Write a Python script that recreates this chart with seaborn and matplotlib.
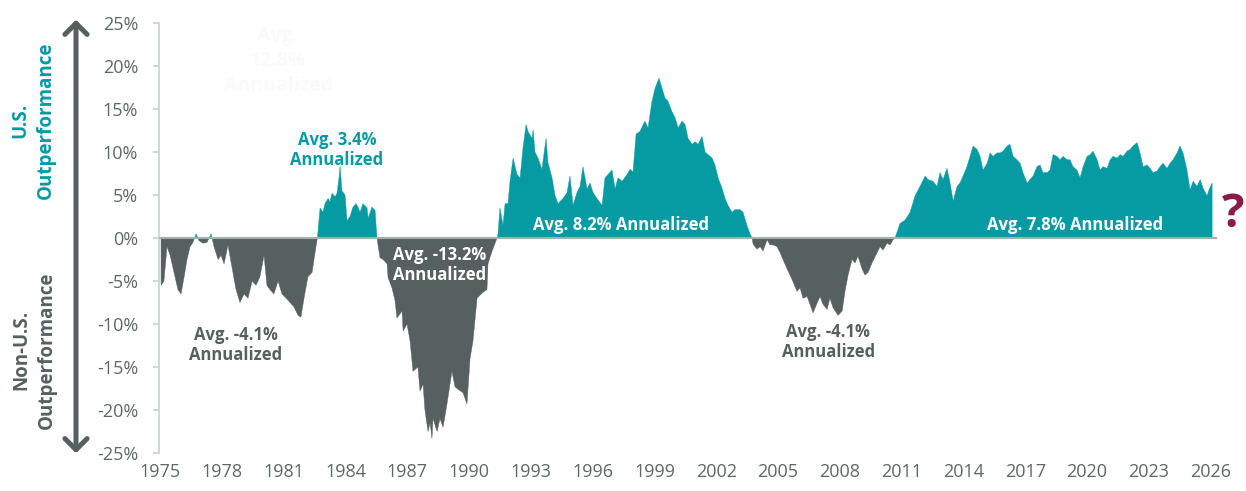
import numpy as np
import matplotlib
matplotlib.use("Agg")
import matplotlib.pyplot as plt
from matplotlib.patches import FancyArrowPatch
import seaborn as sns

# Rolling annualized U.S. minus non-U.S. return (%)
years_7582 = [1975.05, 1975.19, 1975.34, 1975.49, 1975.68, 1975.87, 1976.02, 1976.17, 1976.31,
              1976.46, 1976.60, 1976.75, 1976.89, 1977.09, 1977.28, 1977.48, 1977.62, 1977.82,
              1977.96, 1978.11, 1978.30, 1978.50, 1978.69, 1978.88, 1979.08, 1979.27, 1979.47,
              1979.66, 1979.85, 1980.05, 1980.19, 1980.34, 1980.53, 1980.73, 1980.92, 1981.12,
              1981.31, 1981.50, 1981.70, 1981.84, 1981.99, 1982.18, 1982.38, 1982.57]
excess_7582 = [-5.5, -5.0, -1.0, -2.0, -4.0, -6.0, -6.5, -4.5, -2.5,
               -1.0, -0.5, 0.5, -0.3, -0.6, -0.5, 0.5, -1.0, -2.5,
               -2.0, -3.0, -0.8, -3.5, -6.0, -7.5, -6.5, -7.0, -5.0,
               -5.5, -4.5, -2.0, -5.5, -6.0, -6.5, -5.0, -6.5, -7.0,
               -7.5, -8.0, -9.0, -9.2, -7.0, -4.5, -4.0, -1.0]

years_8285 = [1982.64, 1982.77, 1982.91, 1983.01, 1983.16, 1983.25, 1983.35, 1983.50, 1983.59,
              1983.69, 1983.74, 1983.83, 1983.98, 1984.08, 1984.22, 1984.37, 1984.51, 1984.61,
              1984.71, 1984.85, 1985.05, 1985.10, 1985.29, 1985.44, 1985.53]
excess_8285 = [0.0, 3.5, 3.0, 4.0, 4.6, 4.2, 5.2, 4.8, 5.2,
               7.0, 8.4, 5.5, 5.0, 2.0, 2.5, 3.6, 4.0, 3.6,
               3.0, 4.0, 3.5, 2.3, 3.6, 3.2, 0.0]

years_8591 = [1985.68, 1985.83, 1986.02, 1986.07, 1986.26, 1986.41, 1986.50, 1986.75, 1986.80,
              1986.99, 1987.14, 1987.28, 1987.52, 1987.62, 1987.77, 1987.86, 1988.01, 1988.11,
              1988.20, 1988.25, 1988.45, 1988.59, 1988.74, 1988.93, 1989.17, 1989.32, 1989.47,
              1989.71, 1989.90, 1990.05, 1990.19, 1990.39, 1990.68, 1990.87, 1990.92, 1991.12,
              1991.36]
excess_8591 = [-2.3, -2.5, -3.0, -4.6, -5.8, -7.3, -9.3, -8.5, -10.8,
               -10.0, -12.0, -15.5, -15.0, -17.8, -17.0, -20.0, -22.5, -21.5,
               -23.3, -21.0, -22.5, -21.0, -22.0, -19.3, -15.5, -17.3, -17.6,
               -18.0, -19.3, -14.0, -12.0, -7.0, -6.3, -6.0, -3.0, -1.5,
               0.0]

years_9103 = [1991.41, 1991.50, 1991.65, 1991.75, 1991.89, 1991.99, 1992.14, 1992.33, 1992.48,
              1992.62, 1992.77, 1992.86, 1993.06, 1993.11, 1993.20, 1993.35, 1993.54, 1993.74,
              1993.83, 1994.03, 1994.17, 1994.32, 1994.56, 1994.76, 1994.90, 1995.05, 1995.24,
              1995.39, 1995.53, 1995.73, 1995.87, 1996.02, 1996.21, 1996.46, 1996.60, 1996.75,
              1996.94, 1997.09, 1997.23, 1997.43, 1997.67, 1997.82, 1997.96, 1998.11, 1998.30,
              1998.54, 1998.69, 1998.88, 1999.03, 1999.22, 1999.37, 1999.51, 1999.66, 1999.85,
              2000.00, 2000.15, 2000.34, 2000.49, 2000.63, 2000.83, 2000.97, 2001.12, 2001.31,
              2001.46, 2001.60, 2001.80, 2001.94, 2002.09, 2002.28, 2002.43, 2002.57, 2002.77,
              2002.91, 2003.16, 2003.30, 2003.50, 2003.64, 2003.74]
excess_9103 = [0.5, 3.5, 1.5, 4.0, 4.0, 6.6, 9.3, 7.4, 7.0,
               10.5, 13.2, 12.4, 11.6, 12.6, 10.0, 9.3, 8.0, 11.6,
               8.8, 7.0, 5.0, 4.0, 4.6, 5.3, 7.2, 3.8, 5.3,
               6.0, 8.3, 5.7, 6.4, 5.3, 4.6, 3.8, 7.0, 7.4,
               7.9, 5.7, 7.0, 6.6, 7.4, 8.0, 7.7, 12.1, 12.4,
               13.6, 12.8, 15.9, 17.4, 18.6, 17.4, 16.3, 15.9, 14.7,
               14.0, 12.8, 13.6, 13.2, 11.6, 10.9, 11.2, 10.9, 11.8,
               10.0, 9.7, 9.3, 8.5, 7.0, 5.8, 4.6, 3.8, 3.0,
               3.3, 3.3, 3.0, 1.4, 0.5, 0.0]

years_0310 = [2003.79, 2003.98, 2004.13, 2004.27, 2004.47, 2004.61, 2004.76, 2004.95, 2005.10,
              2005.24, 2005.44, 2005.58, 2005.73, 2005.92, 2006.07, 2006.21, 2006.41, 2006.55,
              2006.70, 2006.89, 2007.04, 2007.18, 2007.38, 2007.52, 2007.67, 2007.91, 2008.11,
              2008.25, 2008.40, 2008.59, 2008.74, 2008.88, 2009.08, 2009.22, 2009.37, 2009.56,
              2009.81, 2009.95, 2010.10, 2010.29, 2010.44, 2010.58, 2010.68]
excess_0310 = [-0.7, -1.3, -1.0, -1.5, -0.2, -0.8, -0.8, -1.0, -1.7,
               -2.5, -3.6, -4.3, -5.1, -6.2, -5.8, -7.0, -6.8, -7.7,
               -8.7, -7.6, -6.8, -7.7, -8.3, -7.0, -8.1, -9.0, -8.5,
               -6.2, -4.3, -2.5, -2.9, -2.1, -3.6, -4.3, -4.0, -2.9,
               -1.7, -1.0, -1.4, -0.6, -0.8, -0.2, 0.0]

years_1026 = [2010.92, 2011.17, 2011.41, 2011.65, 2011.89, 2012.14, 2012.28, 2012.52, 2012.72,
              2012.86, 2013.01, 2013.20, 2013.35, 2013.50, 2013.69, 2013.83, 2013.98, 2014.17,
              2014.32, 2014.47, 2014.66, 2014.81, 2014.95, 2015.15, 2015.29, 2015.44, 2015.63,
              2015.78, 2015.92, 2016.12, 2016.26, 2016.41, 2016.60, 2016.75, 2016.89, 2017.09,
              2017.23, 2017.38, 2017.57, 2017.72, 2017.86, 2018.06, 2018.20, 2018.35, 2018.54,
              2018.69, 2018.83, 2019.03, 2019.17, 2019.32, 2019.51, 2019.66, 2019.81, 2020.00,
              2020.15, 2020.29, 2020.49, 2020.63, 2020.78, 2020.97, 2021.12, 2021.26, 2021.46,
              2021.60, 2021.75, 2021.94, 2022.09, 2022.23, 2022.43, 2022.57, 2022.72, 2022.91,
              2023.06, 2023.20, 2023.40, 2023.54, 2023.69, 2023.88, 2024.03, 2024.17, 2024.37,
              2024.51, 2024.66, 2024.85, 2025.00, 2025.15, 2025.34, 2025.49, 2025.63, 2025.83,
              2025.92, 2026.07]
excess_1026 = [1.7, 2.1, 3.0, 4.9, 6.0, 7.2, 6.8, 6.6, 6.0,
               7.6, 6.8, 8.1, 6.4, 4.3, 6.0, 6.4, 7.2, 8.3,
               9.5, 10.7, 10.3, 9.5, 7.9, 8.7, 9.9, 9.5, 9.9,
               9.9, 10.1, 10.7, 10.9, 9.5, 9.1, 8.7, 7.6, 6.4,
               6.8, 7.2, 8.3, 8.5, 7.6, 7.6, 7.9, 9.7, 9.5,
               9.1, 9.5, 9.1, 9.1, 8.3, 7.9, 7.0, 8.3, 9.5,
               9.7, 10.1, 9.1, 7.9, 8.3, 8.1, 9.1, 9.5, 9.3,
               9.7, 9.5, 10.1, 10.3, 10.7, 11.1, 9.9, 8.3, 8.5,
               8.1, 7.6, 7.8, 8.3, 8.7, 8.1, 8.7, 9.1, 9.9,
               10.7, 9.9, 7.9, 5.6, 6.6, 6.0, 6.8, 5.8, 4.9,
               5.6, 6.4]

y_ticks = list(range(-25, 30, 5))
x_ticks = list(range(1975, 2027, 3))

# period averages shown on the chart: (x year, y %, text, colour key)
labels = [
    (1983.59, 10.2, "Avg. 3.4%\nAnnualized", "teal"),
    (1978.69, -12.4, "Avg. -4.1%\nAnnualized", "gray"),
    (1988.59, -3.1, "Avg. -13.2%\nAnnualized", "white"),
    (1997.38, 1.5, "Avg. 8.2% Annualized", "white"),
    (2007.43, -12.1, "Avg. -4.1%\nAnnualized", "gray"),
    (2019.42, 1.5, "Avg. 7.8% Annualized", "white"),
]

years = np.array(years_7582 + years_8285 + years_8591 + years_9103 + years_0310 + years_1026)
excess = np.array(excess_7582 + excess_8285 + excess_8591 + excess_9103 + excess_0310 + excess_1026)

TEAL = "#069aa2"
GRAY = "#56605e"
TICK = "#5d6866"

sns.set_theme(style="white")
plt.rcParams["font.family"] = ["Open Sans", "DejaVu Sans"]

fig = plt.figure(figsize=(12.46, 4.91), dpi=100)
ax = fig.add_axes([0.1276, 0.0774, 0.849, 0.8756])

ax.fill_between(years, excess, 0, where=excess >= 0, interpolate=True, color=TEAL, lw=0.3, edgecolor=TEAL)
ax.fill_between(years, excess, 0, where=excess <= 0, interpolate=True, color=GRAY, lw=0.3, edgecolor=GRAY)
ax.axhline(0, color="#a7afae", lw=1.5, zorder=3)

ax.set_xlim(1974.95, 2026.3)
ax.set_ylim(-25, 25)
ax.set_yticks(y_ticks)
ax.set_yticklabels([f"{v}%" for v in y_ticks])
ax.set_xticks(x_ticks)
ax.set_xticklabels([str(v) for v in x_ticks])
ax.tick_params(axis="y", length=4, width=1.5, color="#d3d6d6", pad=11, labelsize=13, labelcolor=TICK, left=True)
ax.tick_params(axis="x", length=0, pad=7, labelsize=13, labelcolor=TICK)
sns.despine(ax=ax, bottom=True)
ax.spines["left"].set_color("#d3d6d6")
ax.spines["left"].set_linewidth(1.5)

colours = {"teal": TEAL, "gray": GRAY, "white": "white"}
for x, y, txt, c in labels:
    ax.text(x, y, txt, ha="center", va="center", fontsize=12, fontweight="bold",
            color=colours[c], linespacing=1.15, zorder=4)

# faint leftover label in the source image
ax.text(1980.73, 20.6, "Avg.\n12.8%\nAnnualized", ha="center", va="center", fontsize=14,
        fontweight="bold", color="#fafafa", linespacing=1.35)

# side arrow and captions
arrow = FancyArrowPatch((0.061, 0.0713), (0.061, 0.9654), transform=fig.transFigure,
                        arrowstyle="<->,head_length=8,head_width=8", color=GRAY, lw=3.6,
                        mutation_scale=1)
fig.add_artist(arrow)
fig.text(0.0265, 0.7556, "U.S.\nOutperformance", rotation=90, ha="center", va="center",
         multialignment="center", fontsize=13.5, fontweight="bold", color=TEAL, linespacing=1.35)
fig.text(0.0272, 0.287, "Non-U.S.\nOutperformance", rotation=90, ha="center", va="center",
         multialignment="center", fontsize=13.5, fontweight="bold", color=GRAY, linespacing=1.35)
fig.text(0.9895, 0.563, "?", ha="center", va="center", fontsize=34, fontweight="bold", color="#8a1c4a")

fig.savefig("out.png", dpi=100)
